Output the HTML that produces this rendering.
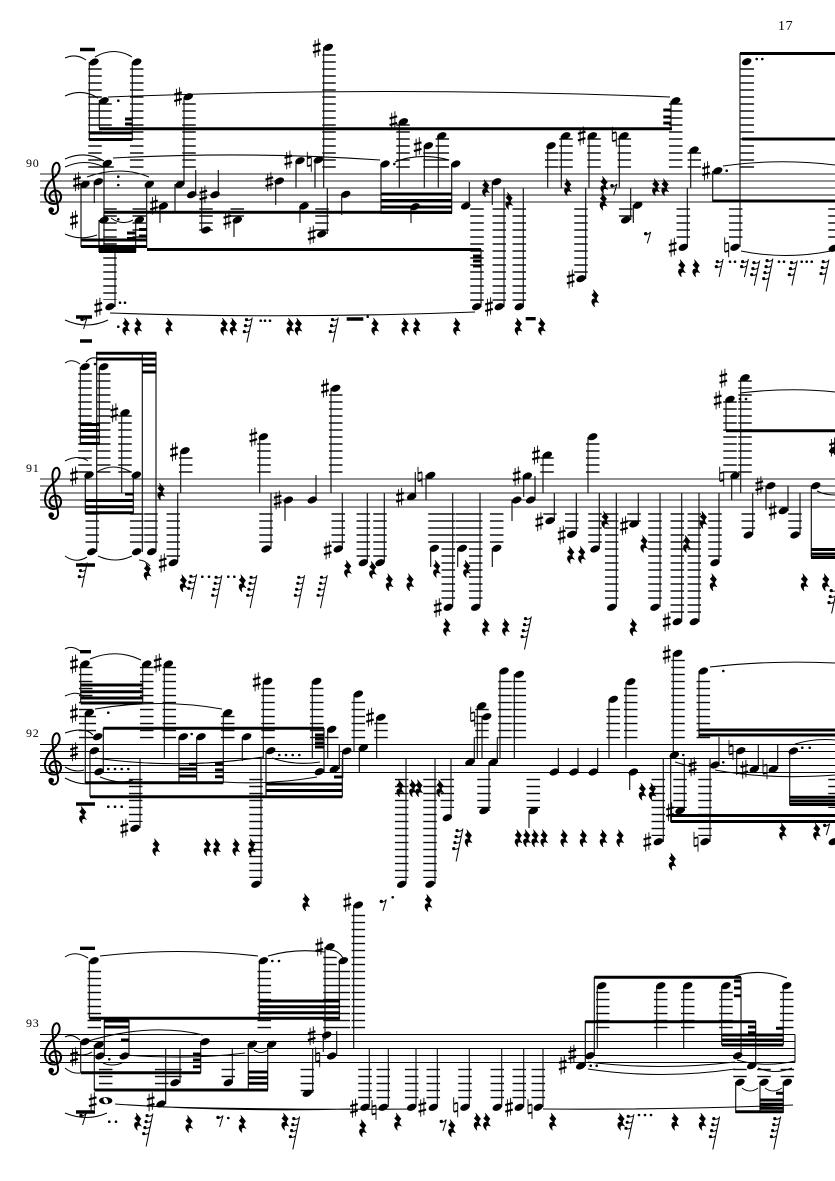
<!DOCTYPE html>
<html lang="en"><head><meta charset="utf-8"><title>Score page 17</title>
<style>
html,body{margin:0;padding:0;background:#fff}
svg{display:block}
.st1{stroke:#000;stroke-width:1;fill:none}
.stem{stroke:#111;stroke-width:1.15;fill:none}
.b{stroke:#000;stroke-width:3;fill:none}
.c{stroke:#000;stroke-width:1.05;fill:none}
.l{stroke-width:13.5;fill:none}
.w{stroke:#000;stroke-width:3.4;fill:none}
polyline{fill:none;stroke:none}
.N{marker:url(#mn)}.R{marker:url(#mr)}.S{marker:url(#ms)}.T{marker:url(#mt)}
.D{marker:url(#md)}.E{marker:url(#me)}.F{marker:url(#mf)}.J{marker:url(#mj)}.H{marker:url(#mh)}.G{marker:url(#mg)}
text{font-family:"Liberation Serif",serif;fill:#000}
</style></head><body>
<svg xmlns="http://www.w3.org/2000/svg" width="835" height="1181" viewBox="0 0 835 1181">
<defs>
<pattern id="p1" patternUnits="userSpaceOnUse" x="0" y="173.3" width="20" height="7"><rect width="20" height="1.4"/></pattern>
<pattern id="p2" patternUnits="userSpaceOnUse" x="0" y="478.3" width="20" height="7"><rect width="20" height="1.4"/></pattern>
<pattern id="p3" patternUnits="userSpaceOnUse" x="0" y="743.8" width="20" height="7"><rect width="20" height="1.4"/></pattern>
<pattern id="p4" patternUnits="userSpaceOnUse" x="0" y="1033.8" width="20" height="7"><rect width="20" height="1.4"/></pattern>
<marker id="mn" markerUnits="userSpaceOnUse" markerWidth="1" markerHeight="1" orient="0" style="overflow:visible"><ellipse rx="5" ry="3.2" transform="rotate(-24)"/></marker>
<marker id="mr" markerUnits="userSpaceOnUse" markerWidth="1" markerHeight="1" orient="0" style="overflow:visible"><path d="M-1.5-8.5L3.2-2.8C1-.8.4 1.2 3.6 4.4 1 3-2 3.4-.4 8.4-5 4-3.6-.6 1 .8L-3-3.4C-.8-5-.2-6.6-1.5-8.5Z" stroke="#000" stroke-width=".7" stroke-linejoin="round"/></marker>
<marker id="ms" markerUnits="userSpaceOnUse" markerWidth="1" markerHeight="1" orient="0" style="overflow:visible"><path d="M-1.6-8V9.5M1.6-9.5V8" stroke="#000" stroke-width=".9"/><path d="M-3.8-2.2L3.8-4.4M-3.8 4.4L3.8 2.2" stroke="#000" stroke-width="2.2"/></marker>
<marker id="mt" markerUnits="userSpaceOnUse" markerWidth="1" markerHeight="1" orient="0" style="overflow:visible"><path d="M-2-10V4.5M2-4.5V10" stroke="#000" stroke-width=".9" fill="none"/><path d="M-2-3.4L2-4.6M-2 4.6L2 3.4" stroke="#000" stroke-width="1.8"/></marker>
<marker id="md" markerUnits="userSpaceOnUse" markerWidth="1" markerHeight="1" orient="0" style="overflow:visible"><circle r="1.3"/></marker>
<marker id="me" markerUnits="userSpaceOnUse" markerWidth="1" markerHeight="1" orient="0" style="overflow:visible"><circle cx="-2" cy="-3.6" r="1.7"/><path d="M-3-3Q0-2 3-5.4L-.4 6" stroke="#000" stroke-width="1" fill="none"/></marker>
<marker id="mh" markerUnits="userSpaceOnUse" markerWidth="1" markerHeight="1" orient="0" style="overflow:visible"><path d="M3.4-9L-.6 9M-3-6Q0-5 2.8-7M-4-1Q-1 0 1.6-2" stroke="#000" stroke-width="1" fill="none"/><circle cx="-2.4" cy="-6.4" r="1.6"/><circle cx="-3.4" cy="-1.4" r="1.6"/></marker>
<marker id="mj" markerUnits="userSpaceOnUse" markerWidth="1" markerHeight="1" orient="0" style="overflow:visible"><path d="M4-12.5L-1.4 12.5M-2.4-10Q1-9 3.4-11M-3.4-4Q0-3 2.2-5M-4.6 2Q-1 3 .9 1" stroke="#000" stroke-width="1" fill="none"/><circle cx="-1.8" cy="-10.4" r="1.6"/><circle cx="-2.8" cy="-4.4" r="1.6"/><circle cx="-4" cy="1.6" r="1.6"/></marker>
<marker id="mf" markerUnits="userSpaceOnUse" markerWidth="1" markerHeight="1" orient="0" style="overflow:visible"><path d="M4.6-16.5L-2.2 16.5M-1.8-14Q1.6-13 4-15M-2.8-8Q.6-7 2.8-9M-4-2Q-.6-1 1.5-3M-5.2 4Q-1.6 5 .3 3" stroke="#000" stroke-width="1" fill="none"/><circle cx="-1.2" cy="-14.4" r="1.6"/><circle cx="-2.2" cy="-8.4" r="1.6"/><circle cx="-3.4" cy="-2.4" r="1.6"/><circle cx="-4.6" cy="3.6" r="1.6"/></marker>
<marker id="mg" markerUnits="userSpaceOnUse" markerWidth="1" markerHeight="1" orient="0" style="overflow:visible"><path d="M1 6.5C-6 6.5-6.5-3 1-4.5C9-5 9.5 8.5 0 9C-12 9-11-7-3-14.5C2-19 6.5-23 5.5-28.5C4.5-34.5-.5-33-1.5-26C-2.2-20 2 0 4 12C5 20-3 21-4.5 15.5" stroke="#000" stroke-width="2" fill="none"/><circle cx="-2.8" cy="15" r="2.8"/></marker>
</defs>

<text x="778" y="30" font-size="14" letter-spacing=".6">17</text>
<text x="26" y="167" font-size="12" letter-spacing=".8">90</text>
<text x="26" y="472" font-size="12" letter-spacing=".8">91</text>
<text x="26" y="737" font-size="12" letter-spacing=".8">92</text>
<text x="26" y="1027" font-size="12" letter-spacing=".8">93</text>

<!-- staves -->
<path d="M40 174H835M40 181H835M40 188H835M40 195H835M40 202H835M40 479H835M40 486H835M40 493H835M40 500H835M40 507H835" stroke="#222" stroke-width="1.1" fill="none"/>
<path class="st1" d="M40 744.5H835M40 751.5H835M40 758.5H835M40 765.5H835M40 772.5H835M40 1034.5H795M40 1041.5H795M40 1048.5H795M40 1055.5H795M40 1062.5H795M795 1034.5V1062.5"/>
<polyline class="G" points="54,195 54,500 54,765.5 54,1055.5"/>

<!-- ledgers -->
<path class="l" stroke="url(#p1)" d="M95 66V169M136.7 66V169M105 102V128M107 165V169M189 102V169M329 53V169M403 123V169M430 151V169M442.3 137V169M551.7 151V169M566 137V169M594 137V169M624.3 137V169M675.7 102V169M694.3 151V169M747.3 67V169M110 208V300M139.3 208V238M206 208V231M237.3 208V217M322 208V235M477 208V301M499.3 208V301M519.3 208V301M581 208V273M625.7 208V217M683.3 208V243M735.7 208V243M835 208V243"/>
<path class="l" stroke="url(#p2)" d="M85 373V473.5M103.7 373V473.5M125 415V473.5M185.7 456V473.5M264 442V473.5M335.7 394V473.5M547 456V473.5M592.7 442V473.5M730 400V473.5M745 379V473.5M92.3 513V543.5M136.7 513V543.5M151 513V543.5M173.3 513V557M266 513V543.5M338.3 513V543.5M363.3 513V557M380 513V557M435 513V543.5M448.3 513V602M462.3 513V543.5M475.7 513V602M496.7 513V543.5M550 513V515.5M571.7 513V529.5M595 513V543.5M611.7 513V602M634 513V522.5M655 513V602M677.3 513V616M694.3 513V616M715 513V557M748.3 513V529.5M795 513V529.5"/>
<path class="l" stroke="url(#p3)" d="M85.7 666V738.5M146.7 666V738.5M169.3 666V738.5M89.3 715V738.5M227.7 715V738.5M268 687V738.5M316.7 687V738.5M331.7 735V738.5M358.3 701V738.5M381 722V738.5M482 708V738.5M505 680V738.5M519.3 680V738.5M613.3 708V738.5M630.7 687V738.5M678 659V738.5M703.3 680V738.5M256 778V878M135.7 778V822M401.7 778V878M430 778V878M447.3 778V808M484 778V808M533.3 778V808M658.3 778V836M680 778V808M705 778V836M835 778V808"/>
<path class="l" stroke="url(#p4)" d="M94.3 966V1029M264.3 966V1029M343.3 966V1029M330 952V1029M358.3 914V1029M602.7 991V1029M660.7 991V1029M687.7 991V1029M726 991V1029M786.7 991V1029M105.7 1068V1085M161.7 1068V1085M175 1068V1078M228.3 1068V1078M307.3 1068V1092M365 1068V1101M383.3 1068V1101M411.7 1068V1101M433.3 1068V1101M465 1068V1101M497.3 1068V1101M519.3 1068V1101M538.3 1068V1101M740 1068V1078M764 1068V1078M787.3 1068V1078"/>

<!-- stems -->
<path class="stem" d="M89.3 62V140M132.3 62V140M99.3 100V128M184 97V184M323.7 47V188M399.3 122V188M424.3 146V188M438.3 136V188M451.7 164V213M381 164V214M411 207V223M81 184V247M94.3 182V203M104 163V253M146.7 184V248M160 206V223M175 184V212M195.7 195V170M218.3 195V170M201.7 197V230M234 220V237M275.7 181V205M296 161V188M315 160V188M300 206V223M327.3 188V234M341.7 194V215M115 253V307M99 220V252M135.7 220V252M469.3 206V182M492.3 182V205M481 249V307M504 188V307M523.3 188V307M547.7 146V188M561.3 136V188M589 136V188M585.7 188V279M619.3 136V188M630.7 188V220M633.3 205V223M671 101V128M690.7 150V188M687.3 188V247M712.7 171V202M740 53V247"/>
<path class="stem" d="M80.3 367V445M99.3 367V445M96.7 352V552M121.7 413V493M85.3 475V513M133.3 475V513M142.3 352V552M156 352V552M177.7 493V562M180.7 451V493M259.7 437V493M271 493V549M285 500V521M316 500V475M331 388V493M342.3 493V549M367.3 493V562M384.3 493V562M415.3 497V472M426 475V500M430.7 548V567M452.7 493V607M457.7 548V567M480 493V607M492.3 548V567M512 500V521M523.7 476V497M535 500V476M543 455V493M554.3 493V521M576.3 493V534M588 437V493M599.3 493V549M616.3 493V607M638.3 493V524M660 493V607M681.7 493V622M699 493V622M719 493V563M726 399V431M740.7 378V493M731.7 476V500M752.7 493V535M766 486V510M788 511V486M800 493V535M811.3 486V557"/>
<path class="stem" d="M80.7 664V703M142.7 664V703M164.3 664V758M85.3 713V783M223.3 713V783M103.3 728V772M90 751V797M179 737V783M196.7 737V783M242.3 737V761M263.3 681V758M312.3 681V758M266 751V795M261 758V884M140 758V828M324 728V772M339.3 769V745M342.3 758V797M327.7 729V758M342.7 751V778M354 694V752M359.3 748V772M376.7 717V758M406 758V884M435 758V884M451 758V818M474.3 762V737M477.3 706V758M482 717V758M497.3 762V737M489 762V811M500 671V758M514.3 674V758M558.3 772V748M578 772V748M597.7 772V748M529 811V828M609 699V758M626 682V758M629.7 772V790M663.3 758V842M673.3 653V755M670.7 755V822M684.3 758V811M719 765V737M710 758V842M699 671V737M736.7 751V775M758.3 769V745M777.7 769V745M789.7 751V805"/>
<path class="stem" d="M89.3 961V1018M259.3 961V1018M325 947V1040M339.3 961V1018M353.7 905V1048M323.3 1035V1052M336.7 1056V1031M312.7 1048V1093M80.7 1042V1073M94.3 1045V1090M104.3 1020V1056M129 1056V1020M200.7 1042V1073M180 1083V1048M165.7 1048V1104M232.3 1083V1049M248.3 1044V1090M267.7 1044V1090M369.3 1048V1107M388.3 1048V1107M416 1048V1107M437.3 1048V1107M469.3 1048V1107M501.7 1048V1107M523.7 1048V1107M543 1048V1107M585.3 1066V1021M594.3 1056V977M597.3 986V1048M656.7 986V1048M683.7 986V1048M721.7 986V1045M741 1056V977M755.7 1066V1021M783.3 986V1045M735.7 1082V1113M760 1082V1113M783.3 1082V1113"/>

<!-- beams -->
<path class="b" d="M89 133H132.5M89 139.5H132.5M99 128.7H672M125 119H132M125 124H132M381 194H452M381 200.5H452M381 207H452M381 212.5H452M104 212.3H452M81 240H147M81 246.5H147M99 248.5H136M99 251.5H136M147 249.5H481M139 229.5H147M139 236H147M127 233H136M127 238.5H136M663.3 110H671M663.3 117H671M663.3 123H671M473 256H481M473 261H481M473 266H481M712.7 201H835M740 53.5H835M742 139H835"/>
<path class="b" d="M96 353.3H156.5M96 359H156.5M142 365H156.5M142 372H156.5M80 424.5H100M80 430.5H100M80 437H100M80 443.5H100M85 500.5H133.5M85 506.7H133.5M85 512.7H133.5M125 494H133.5M726 430.7H835M811 549.5H835M811 554H835M811 557.5H835"/>
<path class="b" d="M80.7 685H142.7M80.7 691.7H142.7M80.7 698H142.7M80.7 703H142.7M103.3 728.3H324M85.3 782.7H223.3M90 796.7H342.3M179 769H196.7M179 776H196.7M189 764.3H196.7M215 764H223.3M215 770H223.3M215 776.7H223.3M266 784H342.3M266 790.5H342.3M315 735H324M315 739H324M315 743H324M315 747H324M334 777H342.3M699 730H835M699 735H835M789.7 797.3H835M789.7 801H835M789.7 804.5H835M670.7 815.5H835M670.7 821.5H835"/>
<path class="b" d="M89.3 1018.3H340M259.3 1001H340M259.3 1006.7H340M259.3 1012.7H340M104 1021H129M104 1027H129M121 1040H129M80.7 1072.7H200.7M94.3 1090H268M193 1054H200.7M193 1060H200.7M193 1066.7H200.7M248 1072H268M248 1077.7H268M248 1083.3H268M594.3 977.3H741M585.3 1021.7H755.7M734 981H741M734 988H741M734 995.7H741M721.7 1035H783.3M721.7 1040H783.3M721.7 1045H783.3M748 1027H755.7M748 1032.7H755.7M776 1028.3H783.3M735.7 1111.7H783.3M760 1100H783.3M760 1104.3H783.3M760 1108.3H783.3M776 1093.3H783.3"/>

<!-- whole rests -->
<path class="w" d="M80 49.5H95M76 317H92M346.7 319H363.3M525.7 318.7H535.7M80 341H92M76 565H95M80 651.7H91M76 804H95M80 948.3H95M76 1112H95"/>

<!-- slurs -->
<path class="c" d="M65 58Q76 53 86 60M95 57Q114 46 132 57M65 96Q82 88 98 98M65 159Q85 150 104 161M65 167Q85 158 104 167M87 177Q120 165 149 177M65 234Q80 241 97 235M113 158Q250 151 380 160M108 97Q390 86 670 97M110 313Q290 319 475 312M65 320Q87 330 108 320M111 218Q122 226 133 220M395 162Q420 152 449 160M723 166Q780 158 835 165M741 251Q785 260 831 251"/>
<path class="c" d="M65 461Q78 454 88 461M65 363Q72 358 80 364M86 362Q90 357 96 358M97 472Q113 462 131 472M65 556Q76 564 87 557M98 556Q115 564 132 556M139 560Q145 560 150 566M740 393Q790 387 835 392M817 491Q825 495 835 495"/>
<path class="c" d="M65 696Q78 690 84 697M65 733Q85 726 93 735M65 767Q75 773 84 770M65 778Q80 786 93 783M90 659Q116 648 141 660M95 709Q160 698 222 709M95 758Q180 770 263 757M100 777Q120 785 133 780M223 782Q270 785 317 777M272 758Q295 766 320 762M65 649Q72 645 80 651M710 667Q770 660 835 663M795 744Q815 738 835 740M675 762Q685 765 692 767M715 770Q770 780 835 775"/>
<path class="c" d="M65 957Q75 950 88 958M100 956Q178 947 258 956M268 956Q295 948 325 952M330 950Q338 950 343 958M65 1037Q72 1033 80 1040M65 1068Q72 1074 80 1073M72 1052Q82 1058 92 1052M85 1042Q150 1022 203 1035M103 1063Q112 1067 122 1063M125 1055Q190 1060 245 1053M254 1050Q261 1055 268 1050M115 1104Q230 1112 350 1109M163 1107Q290 1110 415 1109M543 1109Q670 1110 793 1105M65 1113Q87 1122 107 1113M588 1062Q660 1071 735 1062M588 1069Q660 1080 735 1069M737 1060Q765 1068 795 1061M758 1068Q775 1075 792 1068M742 1088Q750 1094 758 1088M765 1088Q773 1094 782 1088M735 976Q760 968 787 978"/>

<!-- noteheads -->
<polyline class="N" points="94,62 136.7,62 104,100.7 188.3,96.7 328.3,47.3 403.3,121.7 428.3,145.7 441.7,135.7 455.7,164 385,164 415,206.7 85,184.3 98.3,181.7 107.3,163.3 149.3,184.3 163.3,206 180,184.3 191.7,194.7 215,194.7 206,230 237.3,220 279.3,181 300,160.7 318.3,160 304,206 321.7,234 345.7,194.3 110,306.7 104,220 139.3,220 465.7,206 496.7,181.7 476.7,306.7 499.3,306.7 519.3,306.7 551,145.7 565.7,135.7 592.3,135.7 581,278.7 624,135.7 625.7,220 637.7,205.3 675.7,100.7 694,150 683.3,247.3 717.7,170.7 746.7,61.7 735,247.3 833.3,248.3"/>
<polyline class="N" points="85,366.7 103.7,366.7 125,412.7 89,475 136.3,475 91.7,551.7 136.7,551.7 151.7,551.7 173.3,562.7 185,450.7 263.3,436.7 266,549 288.3,500 312.3,500 335.7,388.3 338.3,549 363.3,562.7 380,562.7 411.7,496.7 430.7,475.3 434.3,548.3 448.3,607.3 462.3,548.3 475.7,607.3 496.7,548.3 516.7,500 527.3,476 530.7,500 547.3,455 550,520.7 571.7,534.3 592.7,436.7 595,549 611.7,607.3 634,524 655,607.3 677.3,621.7 694.3,621.7 715,562.7 730,399.3 745,377.7 735,475.7 748.3,535 770.7,485.7 783.3,510.7 795,535 815.7,485.7 834,450"/>
<polyline class="N" points="85,664 146.7,664 168.3,664 89.3,712.7 227.7,712.7 97.7,736.7 99,771.7 94.3,750.7 183.3,736.7 201,736.7 246.7,736.7 267.7,681.3 316.7,681.3 270.7,750.7 256,884.3 135,828.3 319.3,771.7 334.3,769.3 331.7,729.3 346.7,751 358.3,694 363.3,747.7 381,717.3 401.7,884.3 358.3,905 430,884.3 447.3,817.7 470,762.3 481.7,705.7 486.7,716.7 493.3,762.3 484,810.7 504,671 519.3,674.3 554.3,772 574,772 593.3,772 533.3,810.7 613.3,699.3 630.7,681.7 633.3,772 658.3,841.7 677.7,653.3 674.3,755 680,810.7 715,765 705,841.7 703.3,671 740.7,750.7 754.3,769.3 773.3,769.3 793.3,751 833.3,841.7"/>
<polyline class="N" points="94,960.7 263.3,960.7 330,946.7 343.3,960.7 326.7,1035 331.7,1056 307.3,1093.3 85,1041.7 99,1045 100,1056 124.3,1056 205,1041.7 175,1082.7 161,1104 228.3,1082.7 252.3,1044.3 271.7,1044.3 365,1107.3 383.3,1107.3 411.7,1107.3 433.3,1107.3 465,1107.3 497.3,1107.3 519.3,1107.3 538.3,1107.3 580.7,1066 590,1055.7 601.7,985.7 660.7,985.7 687.7,985.7 726,985.7 737.7,1055.7 751.7,1065.7 786.7,985.7 740,1082.3 764,1082.3 787.3,1082.3"/>
<ellipse cx="105.7" cy="1100.7" rx="6.6" ry="3.6"/><ellipse cx="105.7" cy="1100.7" rx="2" ry="3.2" fill="#fff" transform="rotate(-30 105.7 1100.7)"/>

<!-- accidentals -->
<polyline class="S" points="77,181.7 74,220 178,96.7 316.7,48 393.3,120.7 417.7,146.7 154,205 203.3,195 227.3,220 269.3,181.7 288.3,160 311.7,235 98.3,307.3 489,306.7 581.7,136 570.7,279 672.7,247.3 706,170.7 114.3,412.7 74,476 162.7,563 174,451.7 253.3,437 277.7,500 325,388 327.7,550 400,497.3 437.7,607.7 516.7,476 536,455 539.3,521.7 561.7,535 624,525.7 666.7,621.7 717.7,400 723.3,378.3 759.3,485.7 772.7,510.7 833,447 74,664 157.7,663 74,713.3 74,751.7 256.7,681.7 124.3,828.3 370,717.3 347.3,902 647.3,841.7 666.7,654.3 670,811.7 692.7,766.7 744.3,769.3 311.7,1035.7 319.3,946.7 74,1056.7 150.7,1101.7 92.7,1101.7 354,1108.3 422.3,1107.3 509,1107.3 562.7,1065 572.3,1054.3"/>
<polyline class="T" points="309.3,161.7 614.3,136.7 726.7,247.3 420,476.7 721.7,476.7 472.7,716.7 731,750 765,769.3 696,841.7 317.7,1057.3 374,1110 455.7,1107.3 530,1109"/>

<!-- rests -->
<polyline class="R" points="126,326.7 138,326.7 169,326.7 224,326.7 233.3,326.7 290,326.7 298.3,326.7 375,326.7 405,326.7 416.7,326.7 456.7,326.7 518.3,326.7 541.7,326.7 485.7,188.3 509,201 567.7,187.3 604,185 603.3,201.7 595,298.3 655.7,187.3 665,187.3 681.7,268.3 696,268.3 147.3,571.7 161,491.7 183.3,583.3 242.3,583.3 347.7,569 372.7,570 389.3,582.3 410,582.3 436.7,569 466.7,569 446.7,627.3 485.7,627.3 505.7,627.3 570.7,555 581.7,555 605,520 644,544 633.3,627.3 686.7,544 703.3,520 713.3,582.3 804.3,582.3 825.7,582.3 82.7,815 156,847.3 207.3,847.3 216.7,847.3 236,847.3 251.7,847.3 400,788.3 412.7,788.3 419,788.3 440,788.3 468.3,838.3 518.3,838.3 526.7,838.3 535,838.3 544,838.3 564,838.3 583.3,838.3 603.3,838.3 620,838.3 642.3,791.7 652.3,791.7 672.3,861.7 782.7,831.7 816.7,831.7 306,902.3 428.3,903 137.7,1121.7 189,1124 242.3,1124 285,1121.7 362.7,1128.3 397.7,1121.7 451.7,1128.3 477.3,1121.7 486.7,1121.7 552.7,1121.7 621,1121.7 675,1121.7 702.3,1121.7"/>
<polyline class="E" points="84,323 614,189.3 647.7,237.3 383.3,905 826.7,829 83,1119 220,1121 443.3,1125"/>
<polyline class="H" points="719.7,268 745,268"/>
<polyline class="J" points="248.3,330 334.3,330 755.7,273 793.3,273 825,272 192.7,586.7 83.3,575 833,601 630,1126.7"/>
<polyline class="F" points="768.3,275 217.3,591.7 252.3,591.7 300,591.7 322.7,591.7 526.7,633 458.3,845 148.3,1130 295,1133 715,1133 776,1133"/>

<!-- dots -->
<polyline class="D" points="118.3,100.7 394.3,164 118.3,176.7 118.3,185 120,302.7 125,302.7 260.7,320.7 265,320.7 270,320.7 118.3,326.7 756.7,59 762.3,59 726.7,170.7 367.7,316.7 118.3,219.3 730,261.7 735,261.7 779,261.7 784,261.7 801.7,261.7 806.7,261.7 811.7,261.7 95,364 202.3,576.7 209,576.7 228.3,576.7 234.3,576.7 740,399 746,399 108.3,712.7 108.3,769 115,769 121.7,769 128.3,769 191.7,734 279.3,755 286,755 292.7,755 299.3,755 108.3,806.7 115,806.7 121.7,806.7 392.7,897.3 683.3,755 723.3,762.3 723.3,671 802.3,747.7 809.7,747.7 109.3,1059.3 109.3,1121.7 116,1121.7 228.3,1118 272.3,961 279,961 590.7,1065.7 596.7,1065.7 639,1115 645,1115 651,1115"/>
</svg>
</body></html>
